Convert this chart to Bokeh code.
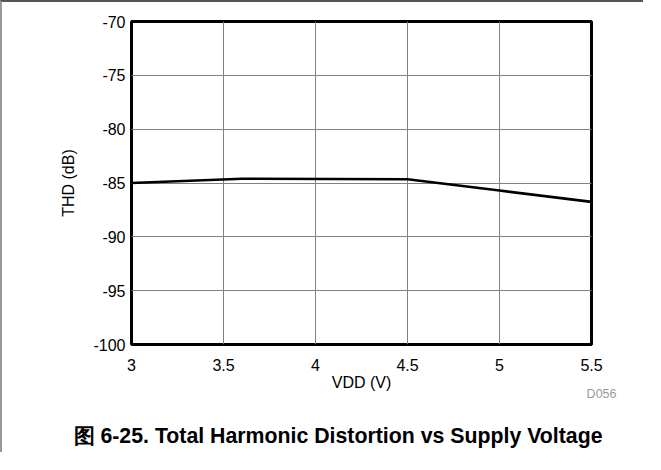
from bokeh.plotting import figure
from bokeh.models import Range1d, Title, FixedTicker
from bokeh.embed import file_html
from bokeh.resources import INLINE

vdd = [3.0, 3.6, 4.5, 5.0, 5.5]
thd = [-85.0, -84.6, -84.65, -85.7, -86.75]
x_ticks = [3, 3.5, 4, 4.5, 5, 5.5]
y_ticks = [-100, -95, -90, -85, -80, -75, -70]
x_label = "VDD (V)"
y_label = "THD (dB)"
title_text = "图 6-25. Total Harmonic Distortion vs Supply Voltage"
code_text = "D056"

FONT = "Liberation Sans"

p = figure(width=643, height=452, output_backend="svg", toolbar_location=None,
           x_range=Range1d(3, 5.5), y_range=Range1d(-100, -70),
           min_border_left=129, min_border_right=54, min_border_top=19, min_border_bottom=110,
           styles={"border-top": "2px solid #555555", "border-left": "2px solid #999999"})

p.outline_line_color = "black"
p.outline_line_width = 3
p.background_fill_color = "white"
p.border_fill_color = "white"

p.xaxis.ticker = FixedTicker(ticks=x_ticks)
p.yaxis.ticker = FixedTicker(ticks=y_ticks)
p.xaxis.major_label_overrides = {t: ("%g" % t) for t in x_ticks}
p.yaxis.major_label_overrides = {t: ("%d" % t) for t in y_ticks}
for ax in (p.xaxis, p.yaxis):
    ax.axis_line_color = None
    ax.major_tick_line_color = None
    ax.minor_tick_line_color = None
    ax.major_tick_out = 0
    ax.major_tick_in = 0
    ax.minor_tick_out = 0
    ax.minor_tick_in = 0
    ax.major_label_text_font = FONT
    ax.major_label_text_font_size = "16px"
    ax.major_label_text_color = "black"
    ax.axis_label_text_font = FONT
    ax.axis_label_text_font_size = "16px"
    ax.axis_label_text_font_style = "normal"
    ax.axis_label_text_color = "black"

p.xaxis.axis_label = x_label
p.yaxis.axis_label = y_label
p.xaxis.major_label_standoff = 14
p.yaxis.major_label_standoff = 6
p.xaxis.axis_label_standoff = 0
p.yaxis.axis_label_standoff = 13

p.grid.grid_line_color = "#808080"
p.grid.grid_line_width = 1
p.grid.grid_line_alpha = 1.0

p.line(vdd, thd, line_color="black", line_width=2.6)

# spacer panel so the caption can sit near the bottom edge
p.add_layout(Title(text=" ", standoff=25, text_font=FONT, text_font_size="1px"), "below")
p.add_layout(Title(text=title_text, align="left", offset=-58, standoff=0,
                   vertical_align="bottom",
                   text_font=FONT, text_font_size="21.3px", text_font_style="bold",
                   text_color="black"), "below")
p.add_layout(Title(text=code_text, align="right", offset=-25, standoff=-122,
                   vertical_align="top",
                   text_font=FONT, text_font_size="12.5px", text_font_style="normal",
                   text_color="#9a9a9a"), "below")

open("out.html", "w").write(file_html(p, INLINE))
